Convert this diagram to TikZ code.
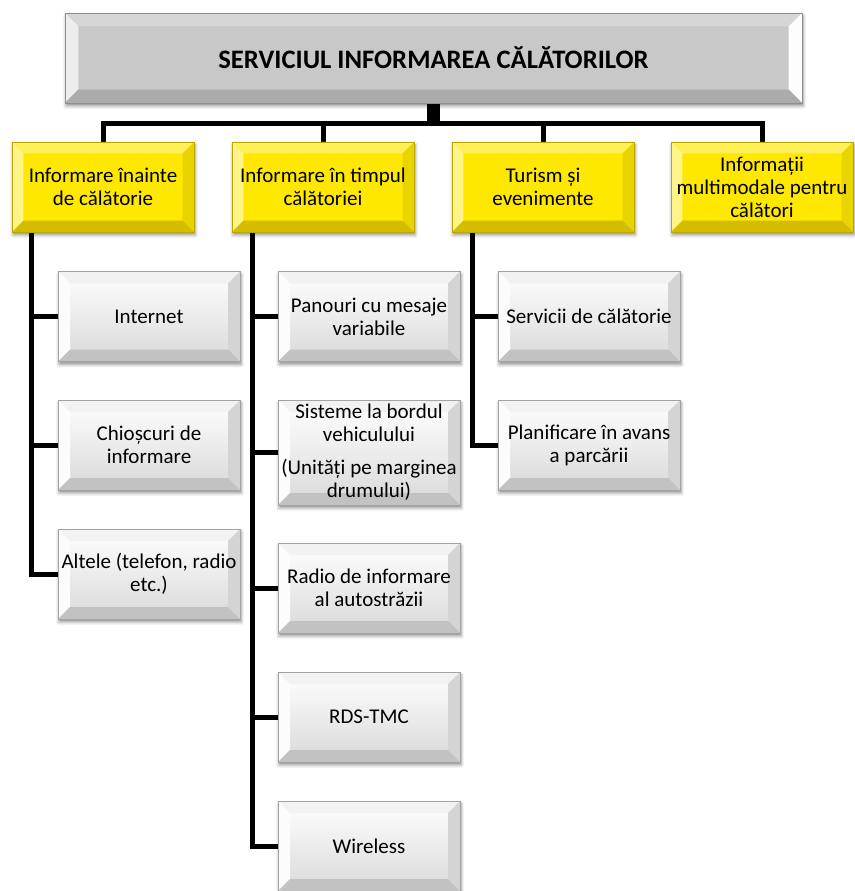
\documentclass[tikz,border=0pt]{standalone}
\usepackage{fontspec}
\setmainfont{Carlito}
\usetikzlibrary{backgrounds,shadows.blur}

% box colours
\definecolor{rootface}{HTML}{C8C8C8}
\definecolor{roottop}{HTML}{D6D6D6}
\definecolor{rootleft}{HTML}{EDEDED}
\definecolor{rootright}{HTML}{FDFDFD}
\definecolor{rootbottom}{HTML}{ABABAB}
\definecolor{rootline}{HTML}{8E8E8E}
\definecolor{yface}{HTML}{FFE800}
\definecolor{ytop}{HTML}{FFF05A}
\definecolor{yleft}{HTML}{FFF488}
\definecolor{yright}{HTML}{EAD400}
\definecolor{ybottom}{HTML}{D2BD00}
\definecolor{yline}{HTML}{BCA600}
\definecolor{gtop}{HTML}{F2F2F2}
\definecolor{gleft}{HTML}{FCFCFC}
\definecolor{gright}{HTML}{D4D4D4}
\definecolor{gbottom}{HTML}{C2C2C2}
\definecolor{gline}{HTML}{A3A3A3}

% four bevel faces inside a rectangular node: #1 bevel width, #2..#5 top, left, right, bottom colours
\newcommand\bevelfaces[5]{%
  \coordinate (bvA) at (path picture bounding box.north west);
  \coordinate (bvB) at (path picture bounding box.north east);
  \coordinate (bvC) at (path picture bounding box.south east);
  \coordinate (bvD) at (path picture bounding box.south west);
  \fill[#2] (bvA) -- (bvB) -- ([shift={(-#1,-#1)}]bvB) -- ([shift={(#1,-#1)}]bvA) -- cycle;
  \fill[#3] (bvA) -- (bvD) -- ([shift={(#1,#1)}]bvD) -- ([shift={(#1,-#1)}]bvA) -- cycle;
  \fill[#4] (bvB) -- (bvC) -- ([shift={(-#1,#1)}]bvC) -- ([shift={(-#1,-#1)}]bvB) -- cycle;
  \fill[#5] (bvD) -- (bvC) -- ([shift={(-#1,#1)}]bvC) -- ([shift={(#1,#1)}]bvD) -- cycle;
}

\begin{document}
\begin{tikzpicture}[x=0.75pt,y=-0.75pt,
  every node/.style={inner sep=0pt, align=center,
    font=\fontsize{15.75}{17.25}\selectfont},
  boxshadow/.style={blur shadow={shadow xshift=0.8pt, shadow yshift=-2.2pt,
    shadow blur radius=2.5pt, shadow opacity=45}},
  rootbox/.style={rectangle, minimum width=552.75pt, minimum height=67.5pt,
    fill=rootface, draw=rootline, line width=0.6pt, boxshadow,
    path picture={\bevelfaces{10pt}{roottop}{rootleft}{rootright}{rootbottom}}},
  ybox/.style={rectangle, minimum width=136.5pt, minimum height=67.5pt,
    fill=yface, draw=yline, line width=0.6pt, boxshadow,
    path picture={\bevelfaces{8.5pt}{ytop}{yleft}{yright}{ybottom}}},
  gbox/.style={rectangle, minimum width=136.5pt, minimum height=67.5pt,
    top color=white, bottom color=black!15, draw=gline, line width=0.6pt, boxshadow,
    path picture={\bevelfaces{9pt}{gtop}{gleft}{gright}{gbottom}}},
  link/.style={line width=3.75pt, black},
  stem/.style={line width=9.75pt, black},
]
\useasboundingbox (0,0) rectangle (854,891);

% root
\node[rootbox] (root) at (433.5,58)
  {\bfseries\fontsize{20}{24}\selectfont SERVICIUL INFORMAREA CĂLĂTORILOR};

% first level
\node[ybox] (pre) at (103,187) {Informare înainte\\de călătorie};
\node[ybox] (dur) at (323,187) {Informare în timpul\\călătoriei};
\node[ybox] (tur) at (543,187) {Turism și\\evenimente};
\node[ybox] (mm)  at (762,187) {Informații\\multimodale pentru\\călători};

% second level
\node[gbox] (inet)  at (149,316.5) {Internet};
\node[gbox] (kiosk) at (149,445)   {Chioșcuri de\\informare};
\node[gbox] (other) at (149,574)   {Altele (telefon, radio\\etc.)};

\node[gbox] (vms)  at (369,316.5) {Panouri cu mesaje\\variabile};
\node[gbox, minimum height=78.75pt] (obu) at (369,452.5)
  {Sisteme la bordul\\vehiculului\\[7.5pt](Unități pe marginea\\drumului)};
\node[gbox] (har)  at (369,588) {Radio de informare\\al autostrăzii};
\node[gbox] (rds)  at (369,717) {RDS-TMC};
\node[gbox] (wifi) at (369,846) {Wireless};

\node[gbox] (svc)  at (589,316.5) {Servicii de călătorie};
\node[gbox] (park) at (589,445)   {Planificare în avans\\a parcării};

% connectors
\coordinate (bar) at (0,123.5);
\coordinate (c1) at (31,0);
\coordinate (c2) at (252,0);
\coordinate (c3) at (472,0);
\begin{scope}[on background layer]
  \draw[stem] (root.south) -- (root.south |- bar);
  \draw[link] (pre.north) -- (pre.north |- bar) -- (mm.north |- bar) -- (mm.north);
  \draw[link] (dur.north) -- (dur.north |- bar);
  \draw[link] (tur.north) -- (tur.north |- bar);

  \draw[link] (c1 |- pre.south) |- (other.west);
  \draw[link] (inet.west) -- (inet.west -| c1);
  \draw[link] (kiosk.west) -- (kiosk.west -| c1);

  \draw[link] (c2 |- dur.south) |- (wifi.west);
  \draw[link] (vms.west) -- (vms.west -| c2);
  \draw[link] (obu.west) -- (obu.west -| c2);
  \draw[link] (har.west) -- (har.west -| c2);
  \draw[link] (rds.west) -- (rds.west -| c2);

  \draw[link] (c3 |- tur.south) |- (park.west);
  \draw[link] (svc.west) -- (svc.west -| c3);
\end{scope}
\end{tikzpicture}
\end{document}
